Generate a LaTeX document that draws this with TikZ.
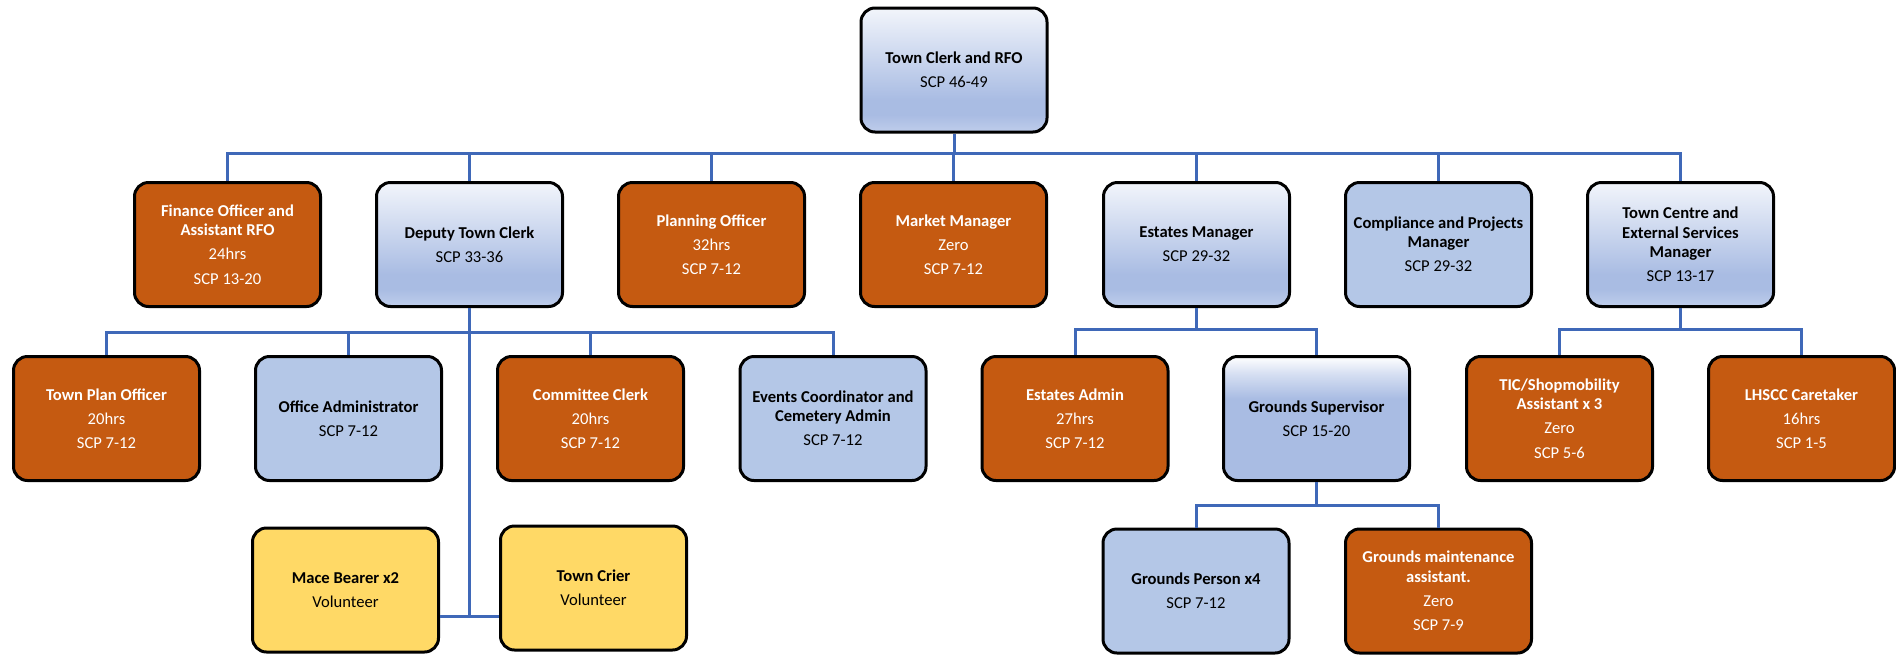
\documentclass[tikz,border=0pt]{standalone}
\usepackage{fontspec}
\setmainfont{Carlito}
\usetikzlibrary{positioning}

\definecolor{rust}{HTML}{C55A11}
\definecolor{paleblue}{HTML}{B4C7E7}
\definecolor{midblue}{HTML}{A9BCE3}
\definecolor{fadeblue}{HTML}{F2F5FB}
\definecolor{edgeblue}{HTML}{BFCDEB}
\definecolor{mistblue}{HTML}{D6DFF2}
\definecolor{sand}{HTML}{FFD966}
\definecolor{wirecol}{HTML}{3F68B8}

% box fills: path box runs from 25bp (bottom) to 75bp (top)
\pgfdeclareverticalshading{headfade}{100bp}{color(0bp)=(edgeblue); color(25bp)=(edgeblue);
    color(32bp)=(midblue); color(38bp)=(midblue); color(75bp)=(fadeblue); color(100bp)=(fadeblue)}
\pgfdeclareverticalshading{crewfade}{100bp}{color(0bp)=(midblue); color(25bp)=(midblue);
    color(58bp)=(midblue); color(68bp)=(mistblue); color(75bp)=(white); color(100bp)=(white)}

\begin{document}
\begin{tikzpicture}[x=0.5pt, y=-0.5pt,
    post/.style={rectangle, rounded corners=7pt, draw=black, line width=1.5pt,
        minimum width=93pt, minimum height=62pt, inner sep=2pt, align=center,
        font=\fontsize{8.3}{9.6}\selectfont},
    grad/.style={post, shading=headfade},
    quick/.style={post, shading=crewfade},
    flat/.style={post, fill=paleblue},
    paid/.style={post, fill=rust, text=white},
    vol/.style={post, fill=sand},
    wire/.style={draw=wirecol, line width=1.5pt}
]
    \useasboundingbox (0,0) rectangle (1896,654);

    % Top
    \node[grad] (top) at (954,70) {\bfseries Town Clerk and RFO\\[2.5pt]SCP 46-49};

    % Row 1
    \node[paid] (fin) at (227.5,244.5) {\bfseries Finance Officer and\\\bfseries Assistant RFO\\[2.5pt]24hrs\\[2.5pt]SCP 13-20};
    \node[grad] (dep) at (469.5,244.5) {\bfseries Deputy Town Clerk\\[2.5pt]SCP 33-36};
    \node[paid] (plan) at (711.5,244.5) {\bfseries Planning Officer\\[2.5pt]32hrs\\[2.5pt]SCP 7-12};
    \node[paid] (mkt) at (953.5,244.5) {\bfseries Market Manager\\[2.5pt]Zero\\[2.5pt]SCP 7-12};
    \node[grad] (est) at (1196.5,244.5) {\bfseries Estates Manager\\[2.5pt]SCP 29-32};
    \node[flat] (comp) at (1438.5,244.5) {\bfseries Compliance and Projects\\\bfseries Manager\\[2.5pt]SCP 29-32};
    \node[grad] (tcm) at (1680.5,244.5) {\bfseries Town Centre and\\\bfseries External Services\\\bfseries Manager\\[2.5pt]SCP 13-17};

    % Row 2
    \node[paid] (tpo) at (106.5,418.5) {\bfseries Town Plan Officer\\[2.5pt]20hrs\\[2.5pt]SCP 7-12};
    \node[flat] (oadm) at (348.5,418.5) {\bfseries Office Administrator\\[2.5pt]SCP 7-12};
    \node[paid] (cc) at (590.5,418.5) {\bfseries Committee Clerk\\[2.5pt]20hrs\\[2.5pt]SCP 7-12};
    \node[flat] (evt) at (833,418.5) {\bfseries Events Coordinator and\\\bfseries Cemetery Admin\\[2.5pt]SCP 7-12};
    \node[paid] (ead) at (1075,418.5) {\bfseries Estates Admin\\[2.5pt]27hrs\\[2.5pt]SCP 7-12};
    \node[quick] (gs) at (1316.5,418.5) {\bfseries Grounds Supervisor\\[2.5pt]SCP 15-20};
    \node[paid] (tic) at (1559.5,418.5) {\bfseries TIC/Shopmobility\\\bfseries Assistant x 3\\[2.5pt]Zero\\[2.5pt]SCP 5-6};
    \node[paid] (lhs) at (1801.5,418.5) {\bfseries LHSCC Caretaker\\[2.5pt]16hrs\\[2.5pt]SCP 1-5};

    % Row 3
    \node[vol] (mace) at (345.5,590) {\bfseries Mace Bearer x2\\[2.5pt]Volunteer};
    \node[vol] (crier) at (593.5,588) {\bfseries Town Crier\\[2.5pt]Volunteer};
    \node[flat] (gp) at (1196,591) {\bfseries Grounds Person x4\\[2.5pt]SCP 7-12};
    \node[paid] (gma) at (1438.5,591) {\bfseries Grounds maintenance\\\bfseries assistant.\\[2.5pt]Zero\\[2.5pt]SCP 7-9};

    % Connectors
    \coordinate (bustop) at (954,153);
    \coordinate (busdep) at (469.5,332);
    \coordinate (busvol) at (469.5,616);
    \coordinate (busest) at (1196.5,329);
    \coordinate (bustcm) at (1680.5,329);
    \coordinate (busgs) at (1316.5,505);

    \draw[wire] (top) -- (bustop);
    \foreach \n in {fin,dep,plan,mkt,est,comp,tcm}
        \draw[wire] (bustop) -| (\n.north);

    \draw[wire] (dep) -- (busvol);
    \foreach \n in {tpo,oadm,cc,evt}
        \draw[wire] (busdep) -| (\n.north);
    \draw[wire] (mace.east |- busvol) -- (crier.west |- busvol);

    \draw[wire] (est) -- (busest);
    \foreach \n in {ead,gs}
        \draw[wire] (busest) -| (\n.north);

    \draw[wire] (tcm) -- (bustcm);
    \foreach \n in {tic,lhs}
        \draw[wire] (bustcm) -| (\n.north);

    \draw[wire] (gs) -- (busgs);
    \foreach \n in {gp,gma}
        \draw[wire] (busgs) -| (\n.north);
\end{tikzpicture}
\end{document}
